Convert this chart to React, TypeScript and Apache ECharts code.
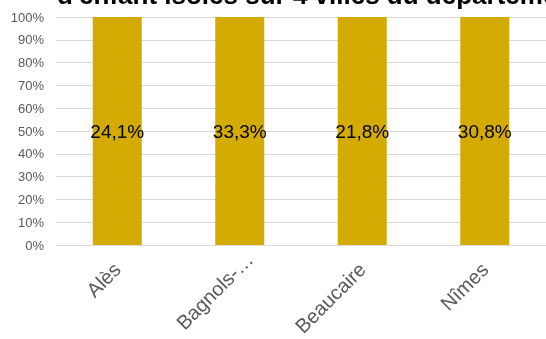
import React, { useEffect, useRef } from "react";
import * as echarts from "echarts";

const titleText = "d'enfant isolés sur 4 villes du département";
const categories = ["Alès", "Bagnols-sur-Cèze", "Beaucaire", "Nîmes"];
const values = [24.1, 33.3, 21.8, 30.8];
const yTicks = { min: 0, max: 100, interval: 10 };

const FONT = "'Liberation Sans', Arial, sans-serif";

export default function App() {
  const ref = useRef<HTMLDivElement>(null);
  useEffect(() => {
    if (!ref.current) return;
    const chart = echarts.init(ref.current, undefined, { renderer: "svg" });
    // single-series 100% stacked: each bar is its share of its own stack
    const shares = values.map((v) => (v / v) * 100);
    chart.setOption({
      animation: false,
      textStyle: { fontFamily: FONT },
      grid: {
        left: 56,
        right: 0,
        top: 17,
        bottom: 94,
        containLabel: false,
        outerBoundsMode: "none",
      },
      graphic: [
        {
          type: "text",
          left: 57,
          top: -18,
          style: {
            text: titleText,
            font: `bold 26px ${FONT}`,
            fill: "#000000",
          },
        },
      ],
      xAxis: {
        type: "category",
        data: categories.map((c) =>
          c.length > 10 ? { value: c, textStyle: { padding: [0, -14, 0, 0] } } : c
        ),
        axisLine: { show: true, lineStyle: { color: "#D9D9D9", width: 1 } },
        axisTick: { show: false },
        axisLabel: {
          rotate: 45,
          interval: 0,
          color: "#595959",
          fontSize: 20,
          fontFamily: FONT,
          margin: 21,
          width: 104,
          overflow: "truncate",
          ellipsis: "…",
        },
      },
      yAxis: {
        type: "value",
        min: yTicks.min,
        max: yTicks.max,
        interval: yTicks.interval,
        axisLine: { show: false },
        axisTick: { show: false },
        splitLine: { lineStyle: { color: "#D9D9D9", width: 1 } },
        axisLabel: {
          formatter: "{value}%",
          color: "#595959",
          fontSize: 13,
          fontFamily: FONT,
          margin: 12,
        },
      },
      series: [
        {
          type: "bar",
          stack: "total",
          barWidth: 49,
          data: shares.map((s, i) => ({ value: s, raw: values[i] })),
          itemStyle: { color: "#D3AB03" },
          label: {
            show: true,
            position: "inside",
            color: "#000000",
            fontSize: 19,
            fontFamily: FONT,
            formatter: (p: any) =>
              values[p.dataIndex].toFixed(1).replace(".", ",") + "%",
          },
        },
      ],
    });
    return () => chart.dispose();
  }, []);
  return (
    <div
      ref={ref}
      style={{ position: "fixed", left: 0, top: 0, width: 546, height: 339 }}
    />
  );
}
